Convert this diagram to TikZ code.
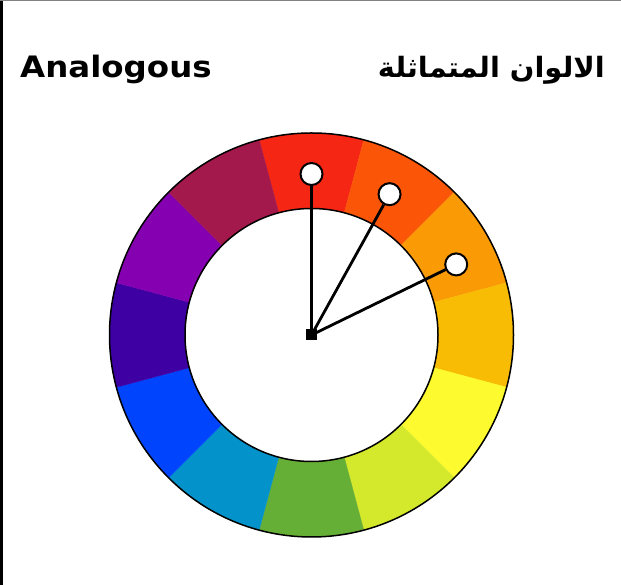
\documentclass[tikz,border=0pt]{standalone}
\usepackage{fontspec}
\usepackage{xcolor}
\usepackage{tikz}
\usetikzlibrary{calc,positioning}
\TeXXeTstate=1
\setmainfont{DejaVu Sans}
\newfontfamily\arabicfont[Script=Arabic]{DejaVu Sans}
\definecolor{wheelR}{RGB}{245,38,20}
\definecolor{wheelRO}{RGB}{251,85,8}
\definecolor{wheelO}{RGB}{250,154,5}
\definecolor{wheelYO}{RGB}{248,188,5}
\definecolor{wheelY}{RGB}{254,250,48}
\definecolor{wheelYG}{RGB}{212,232,44}
\definecolor{wheelG}{RGB}{102,175,54}
\definecolor{wheelBG}{RGB}{3,147,202}
\definecolor{wheelB}{RGB}{0,68,253}
\definecolor{wheelBV}{RGB}{62,0,163}
\definecolor{wheelV}{RGB}{133,0,176}
\definecolor{wheelRV}{RGB}{163,25,75}

\begin{document}
\begin{tikzpicture}[x=1pt, y=1pt,
    hub/.style={rectangle, fill=black, minimum size=11pt, inner sep=0pt},
    dot/.style={circle, draw, line width=2pt, fill=white, minimum size=22pt, inner sep=0pt},
    spoke/.style={line width=2.8pt},
    title/.style={inner sep=0pt, font=\fontsize{29.5}{36}\selectfont\bfseries}
]
    \useasboundingbox (0,0) rectangle (621,585);
    \fill[black] (0,0) rectangle (3,585);
    \fill[gray] (0,584) rectangle (621,585);

    \coordinate (o) at (311.5,250);
    % colour ring
    \foreach \a/\c in {90/wheelR, 60/wheelRO, 30/wheelO, 0/wheelYO, -30/wheelY, -60/wheelYG,
                       -90/wheelG, -120/wheelBG, -150/wheelB, 180/wheelBV, 150/wheelV, 120/wheelRV}
        \fill[\c, draw=\c, line width=0.3pt] ($(o)+(\a-15:202pt)$) arc[start angle=\a-15, end angle=\a+15, radius=202pt]
            -- ($(o)+(\a+15:126.5pt)$) arc[start angle=\a+15, end angle=\a-15, radius=126.5pt] -- cycle;
    \draw[line width=1.5pt] (o) circle[radius=202pt];
    \draw[line width=1.5pt, fill=white] (o) circle[radius=126.5pt];

    \node[dot] (m1) at ($(o)+(90:161pt)$) {};
    \node[dot] (m2) at ($(o)+(61:161pt)$) {};
    \node[dot] (m3) at ($(o)+(26:161pt)$) {};
    \draw[spoke] (o) -- (m1);
    \draw[spoke] (o) -- (m2);
    \draw[spoke] (o) -- (m3);
    \node[hub] (h) at (o) {};

    \node[title, anchor=base west] (en) at (20,507) {\scalebox{1.1}[1]{Analogous}};
    \node[title, anchor=base east, font=\fontsize{28}{32}\arabicfont\bfseries] (ar) at (605,507) {\scalebox{1.03}[1]{\beginR الالوان المتماثلة\endR}};
\end{tikzpicture}
\end{document}
